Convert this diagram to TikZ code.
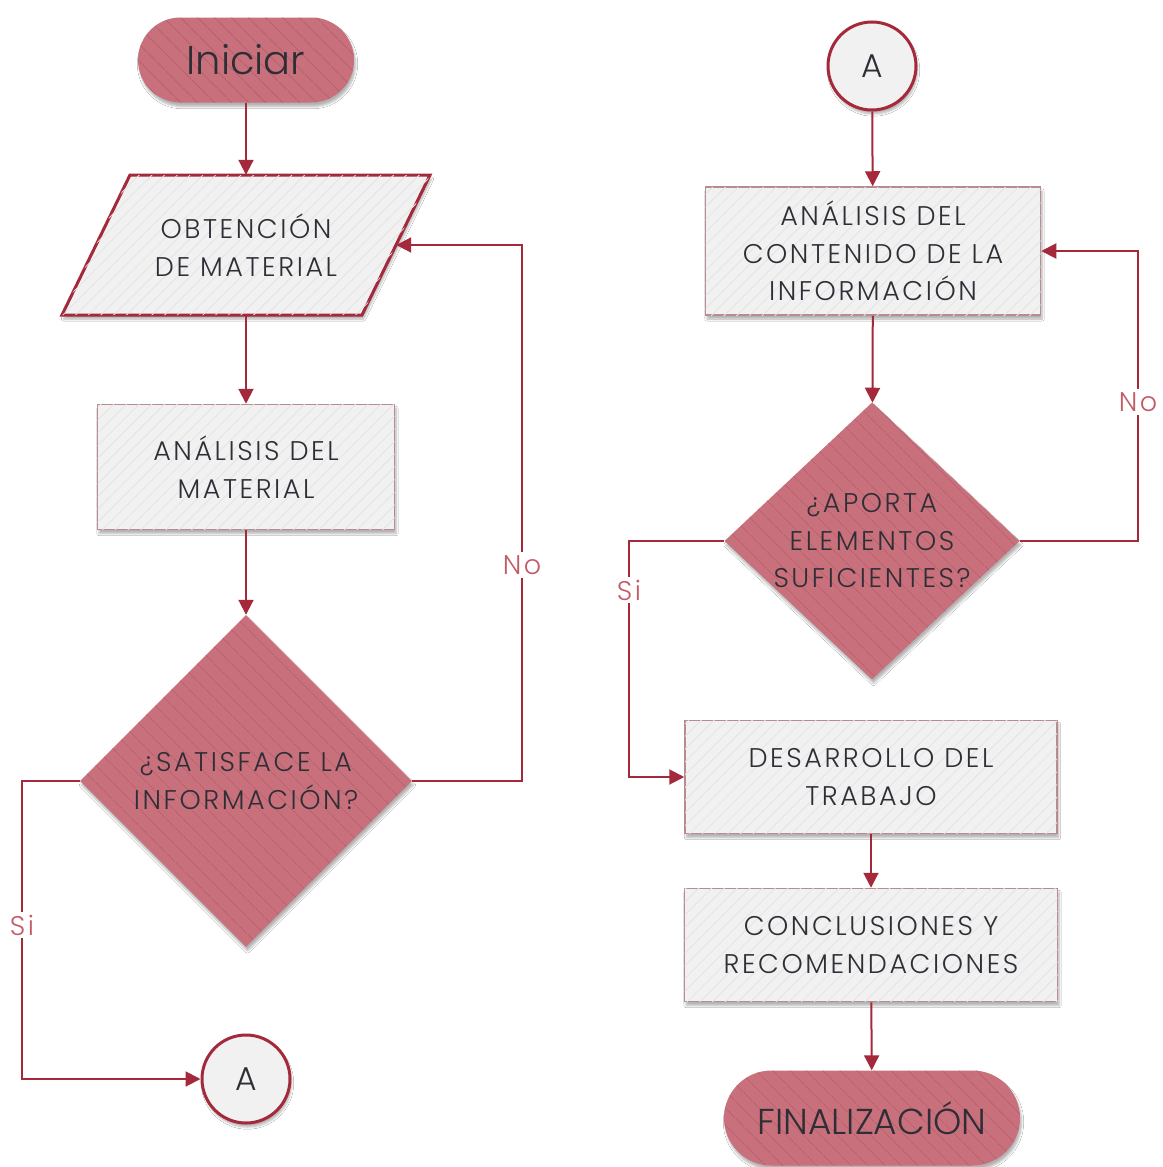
\documentclass[tikz,border=0pt]{standalone}
\usepackage{fontspec}
\setmainfont{Poppins}[UprightFont={* Light}]
\newfontfamily\spaced{Poppins}[UprightFont={* Light},LetterSpace=9.5]
\usetikzlibrary{shapes.geometric,arrows.meta,patterns.meta,shadows.blur}

\definecolor{linered}{HTML}{A3293B}
\definecolor{shapered}{HTML}{C8707B}
\definecolor{stripered}{HTML}{B95E6B}
\definecolor{boxgrey}{HTML}{F1F1F1}
\definecolor{stripegrey}{HTML}{E4E4E4}
\definecolor{boxedge}{HTML}{B98A90}
\definecolor{ink}{HTML}{2E2E36}
\definecolor{labelred}{HTML}{C45A66}

\begin{document}
\begin{tikzpicture}[x=1pt,y=-1pt,
  every node/.style={inner sep=0pt,text=ink,align=center},
  softshadow/.style={blur shadow={shadow xshift=1.5pt,shadow yshift=-4pt,
      shadow blur steps=6,shadow opacity=30}},
  redfill/.style={fill=shapered,
      postaction={pattern={Lines[angle=-45,distance=13pt,line width=0.9pt]},
                  pattern color=stripered}},
  greyfill/.style={fill=boxgrey,
      postaction={pattern={Lines[angle=45,distance=9pt,line width=0.8pt]},
                  pattern color=stripegrey}},
  bodytext/.style={font=\spaced\fontsize{27}{37.5}\selectfont},
  terminal/.style={rectangle,redfill,softshadow},
  process/.style={rectangle,greyfill,draw=boxedge,line width=1.5pt,softshadow,bodytext},
  inputtext/.style={rectangle,bodytext},
  inputedge/.style={greyfill,draw=linered,line width=3pt,line join=miter,softshadow},
  decision/.style={diamond,redfill,softshadow,bodytext,inner sep=-30pt},
  connector/.style={circle,minimum size=88pt,fill=boxgrey,draw=linered,line width=3pt,
      softshadow,font=\fontsize{33}{40}\selectfont},
  flow/.style={draw=linered,line width=2pt},
  arr/.style={flow,-{Triangle[length=15pt,width=15pt]}},
  branch/.style={fill=white,text=labelred,inner sep=3pt,
      font=\spaced\fontsize{27}{30}\selectfont}
]
\useasboundingbox (0,0) rectangle (1162,1167);
\fill[white] (0,0) rectangle (1162,1167);

% slanted input shape: corners, outline, then its text on top
\coordinate (obtTL) at (130,175);
\coordinate (obtTR) at (430,175);
\coordinate (obtBR) at (362,315);
\coordinate (obtBL) at (62,315);
\path[inputedge] (obtTL) -- (obtTR) -- (obtBR) -- (obtBL) -- cycle;

% left column
\node[terminal,minimum width=216pt,minimum height=85pt,rounded corners=42.5pt,
      font=\fontsize{40}{50}\selectfont] (start) at (246,60) {Iniciar};
\node[inputtext,minimum width=300pt,minimum height=140pt] (obt) at (246,245)
      {OBTENCIÓN\\DE MATERIAL};
\node[process,minimum width=297pt,minimum height=125pt] (anamat) at (246,467)
      {ANÁLISIS DEL\\MATERIAL};
\node[decision,minimum width=332pt,minimum height=332pt] (dsat) at (246,781)
      {¿SATISFACE LA\\INFORMACIÓN?};
\node[connector] (outA) at (246,1079) {A};

% right column
\node[connector] (inA) at (872,66) {A};
\node[process,minimum width=335pt,minimum height=128pt] (anainf) at (873,251)
      {ANÁLISIS DEL\\CONTENIDO DE LA\\INFORMACIÓN};
\node[decision,minimum width=295pt,minimum height=277pt] (dapo) at (872,541)
      {¿APORTA\\ELEMENTOS\\SUFICIENTES?};
\node[process,minimum width=372pt,minimum height=113pt] (desa) at (871,777)
      {DESARROLLO DEL\\TRABAJO};
\node[process,minimum width=373pt,minimum height=113pt] (concl) at (871,945)
      {CONCLUSIONES Y\\RECOMENDACIONES};
\node[terminal,minimum width=296pt,minimum height=95pt,rounded corners=47.5pt,
      font=\fontsize{36}{42}\selectfont] (fin) at (872,1118) {FINALIZACIÓN};

% bend points of the loops
\coordinate (noL) at (522,245);
\coordinate (siL) at (22,1079);
\coordinate (noR) at (1138,251);
\coordinate (siR) at (629,777);

% connectors, left column
\draw[arr] (start) -- (obt);
\draw[arr] (obt) -- (anamat);
\draw[arr] (anamat) -- (dsat);
\draw[arr] (dsat.east) -| (noL) -- (obt.east);
\draw[arr] (dsat.west) -| (siL) -- (outA);

% connectors, right column
\draw[arr] (inA) -- (anainf);
\draw[arr] (anainf) -- (dapo);
\draw[arr] (dapo.east) -| (noR) -- (anainf.east);
\draw[arr] (dapo.west) -| (siR) -- (desa.west);
\draw[arr] (desa) -- (concl);
\draw[arr] (concl) -- (fin);

% branch labels
\node[branch] (lblNoL) at (522,565) {No};
\node[branch] (lblSiL) at (22,925) {Si};
\node[branch] (lblNoR) at (1138,402) {No};
\node[branch] (lblSiR) at (629,590) {Si};
\end{tikzpicture}
\end{document}
